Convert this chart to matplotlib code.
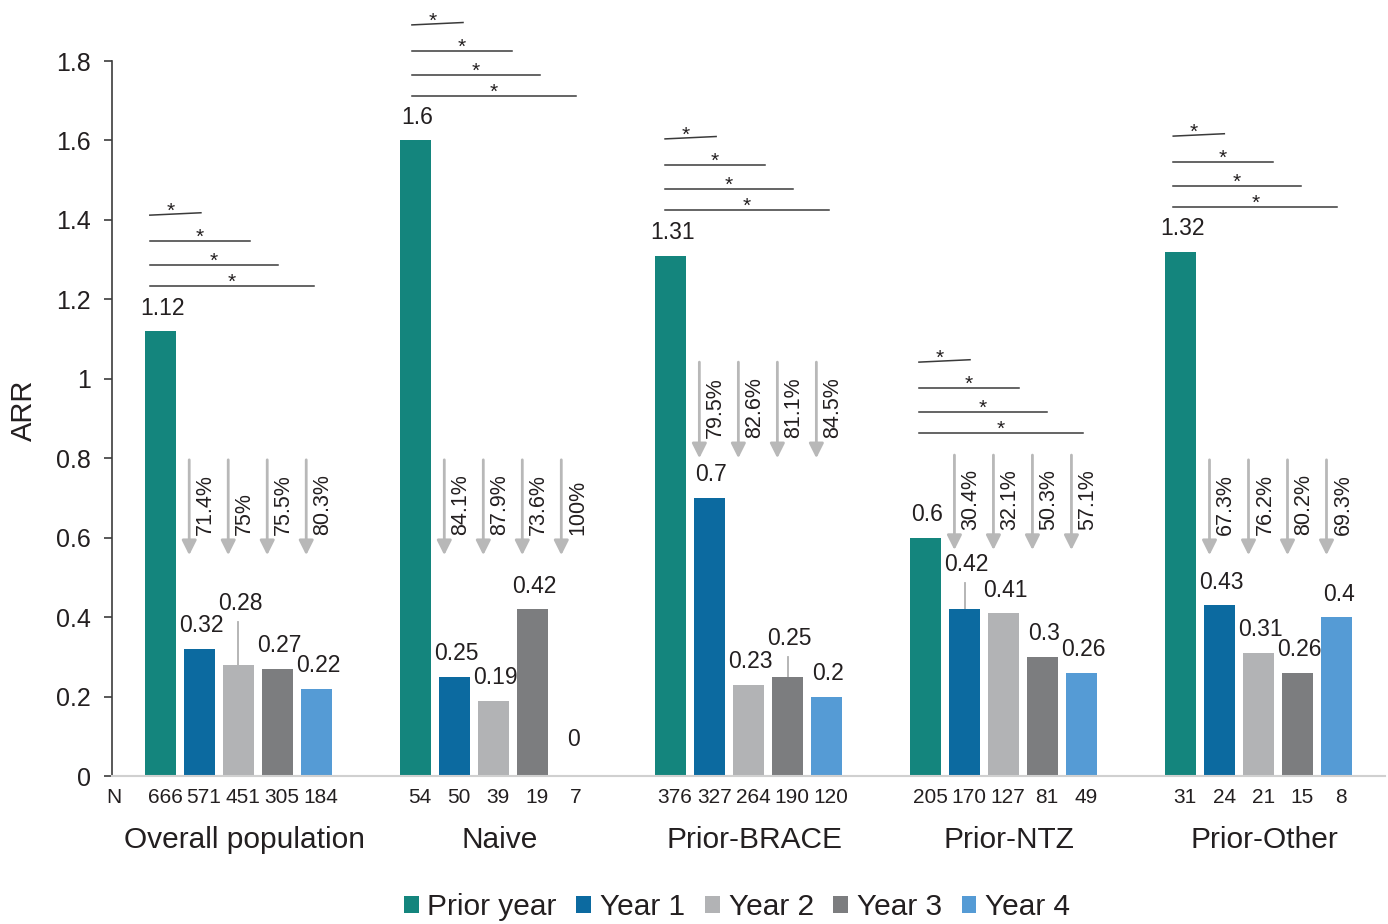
import matplotlib
matplotlib.use("Agg")
import matplotlib.pyplot as plt
from matplotlib.patches import Patch

plt.rcParams["font.family"] = ["Liberation Sans", "DejaVu Sans"]

# ---- data -----------------------------------------------------------------
groups = ["Overall population", "Naive", "Prior-BRACE", "Prior-NTZ", "Prior-Other"]
series = ["Prior year", "Year 1", "Year 2", "Year 3", "Year 4"]

prior_year = [1.12, 1.6, 1.31, 0.6, 1.32]
year1 = [0.32, 0.25, 0.7, 0.42, 0.43]
year2 = [0.28, 0.19, 0.23, 0.41, 0.31]
year3 = [0.27, 0.42, 0.25, 0.3, 0.26]
year4 = [0.22, 0, 0.2, 0.26, 0.4]

n_prior = [666, 54, 376, 205, 31]
n_year1 = [571, 50, 327, 170, 24]
n_year2 = [451, 39, 264, 127, 21]
n_year3 = [305, 19, 190, 81, 15]
n_year4 = [184, 7, 120, 49, 8]

# ARR reduction vs prior year (Year 1..Year 4)
red_overall = [71.4, 75, 75.5, 80.3]
red_naive = [84.1, 87.9, 73.6, 100]
red_brace = [79.5, 82.6, 81.1, 84.5]
red_ntz = [30.4, 32.1, 50.3, 57.1]
red_other = [67.3, 76.2, 80.2, 69.3]

y_ticks = [0, 0.2, 0.4, 0.6, 0.8, 1, 1.2, 1.4, 1.6, 1.8]
y_tick_labels = ["0", "0.2", "0.4", "0.6", "0.8", "1", "1.2", "1.4", "1.6", "1.8"]

# ---- styling / layout -----------------------------------------------------
colors = ["#14857d", "#0c6aa0", "#b2b3b5", "#7c7d7f", "#559bd5"]
txt = "#231f20"
group_gap = 6.54
bar_w = 0.8

arrow_span = [(0.796, 0.556), (0.796, 0.556), (1.042, 0.80), (0.808, 0.569), (0.796, 0.556)]
bracket_top = [1.412, 1.891, 1.604, 1.042, 1.611]
bracket_start = [-0.27, -0.09, -0.14, -0.17, -0.19]
bracket_len = [1.31, 2.56, 3.28, 4.21]
bracket_dy = [0, -0.065, -0.126, -0.179]
bracket_tilt = [0.006, 0, 0, 0]
# extra lift of some value labels (group, series) -> (lift, leader line)
label_lift = {(0, 2): (0.096, True), (2, 3): (0.038, True), (3, 1): (0.055, True), (1, 4): (0.033, False)}

W, H, DPI = 1388, 924, 100
fig = plt.figure(figsize=(W / DPI, H / DPI), dpi=DPI)
ax = fig.add_axes([112 / W, 1 - 776 / H, 1273 / W, 776 / H])
ax.set_ylim(0, 776 / 397.2)
ax.set_xlim(-3.24, 29.4)

values = [prior_year, year1, year2, year3, year4]
counts = [n_prior, n_year1, n_year2, n_year3, n_year4]
reductions = [red_overall, red_naive, red_brace, red_ntz, red_other]
centers = [g * group_gap for g in range(len(groups))]

for i, (name, vals) in enumerate(zip(series, values)):
    xs = [c + (i - 2) for c in centers]
    ax.bar(xs, vals, width=bar_w, color=colors[i], label=name, zorder=2)
    for g, (x, v) in enumerate(zip(xs, vals)):
        lift, leader = label_lift.get((g, i), (0.0, False))
        ly = v + 0.058 + lift
        ax.text(x + 0.05, ly, f"{v:g}", ha="center", va="center",
                fontsize=16.5, color=txt, clip_on=False)
        if leader:
            ax.plot([x, x], [v, ly - 0.046], color="#b0b0b0", lw=1.3, zorder=1)
        ax.text(x + 0.12, -0.053, f"{counts[i][g]}", ha="center", va="center",
                fontsize=15, color=txt, clip_on=False)

ax.text(-3.2, -0.053, "N", ha="center", va="center", fontsize=15, color=txt, clip_on=False)

for g, c in enumerate(centers):
    ax.text(c + 0.15, -0.16, groups[g], ha="center", va="center",
            fontsize=21.5, color=txt, clip_on=False)

    # reduction arrows
    top, bot = arrow_span[g]
    for k, r in enumerate(reductions[g]):
        ax_x = c + (k - 1) - 0.26
        ax.annotate("", xy=(ax_x, bot), xytext=(ax_x, top),
                    arrowprops=dict(arrowstyle="-|>", color="#b8b8b8", lw=2,
                                    mutation_scale=22, shrinkA=0, shrinkB=0))
        ax.text(ax_x + 0.42, bot + 0.05, f"{r:g}%", rotation=90, ha="center",
                va="bottom", fontsize=15.5, color=txt)

    # significance brackets
    x0 = c - 2 + bracket_start[g]
    for k in range(4):
        y = bracket_top[g] + bracket_dy[k]
        x1 = x0 + bracket_len[k]
        ax.plot([x0, x1], [y, y + bracket_tilt[k]], color="#3a3a3a", lw=1.1, clip_on=False)
        ax.text((x0 + x1) / 2 - (0.12 if k == 0 else 0), y - 0.005, "*",
                ha="center", va="baseline", fontsize=15, color=txt, clip_on=False)

# axes cosmetics
for s in ["top", "right"]:
    ax.spines[s].set_visible(False)
ax.spines["left"].set_bounds(0, 1.8)
ax.spines["left"].set_color("#3c3c3c")
ax.spines["left"].set_linewidth(1.2)
ax.spines["bottom"].set_color("#d0d0d0")
ax.spines["bottom"].set_linewidth(1.5)
ax.set_xticks([])
ax.set_yticks(y_ticks)
ax.set_yticklabels(y_tick_labels)
ax.tick_params(axis="y", direction="out", length=6, width=1.2, color="#3c3c3c",
               labelsize=18, labelcolor=txt, pad=9)

fig.text(24 / W, 1 - 410 / H, "ARR", rotation=90, ha="center", va="center",
         fontsize=21, color=txt)

handles = [Patch(facecolor=col, edgecolor="none", label=s) for col, s in zip(colors, series)]
fig.legend(handles=handles, loc="center", bbox_to_anchor=(737 / W, 1 - 907 / H),
           ncol=5, frameon=False, fontsize=21.5, handlelength=0.5, handleheight=0.5,
           handletextpad=0.3, columnspacing=0.65, labelcolor=txt)

fig.savefig("out.png", dpi=DPI)
